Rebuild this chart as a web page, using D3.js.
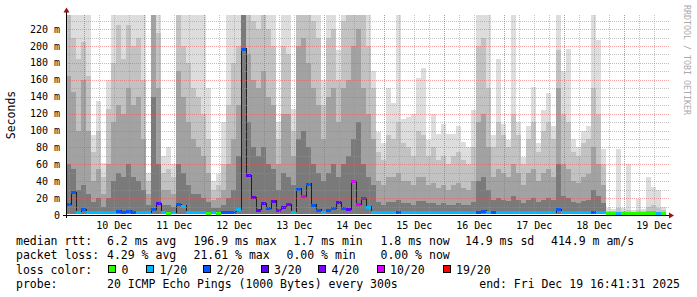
<!DOCTYPE html>
<html>
<head>
<meta charset="utf-8">
<script src="https://cdnjs.cloudflare.com/ajax/libs/d3/7.8.5/d3.min.js"></script>
<style>
body { margin: 0; background: #fff; }
svg { display: block; }
text { font-family: "DejaVu Sans Mono", monospace; }
</style>
</head>
<body>
<script>
// time range: 10 days ending at the probe's last run, one column every 2 hours
var endTime = new Date(Date.UTC(2025, 11, 19, 16, 41, 31));
var startTime = new Date(endTime.getTime() - 10 * 86400000);
var stepMs = 2 * 3600 * 1000;
var minPing = 1.7;

// smoke envelope per column (ms): outer (max ping) down to inner pings
var pingMax = [250,250,250,250,250,95,135,62,160,250, 250,250,250,250,250,250,50,250,250,70,
  80,60,250,250,250,250,250,250,150,40, 48,110,250,250,250,250,250,250,250,250,
  250,250,110,250,250,125,250,250,250,250, 250,160,250,250,195,250,250,250,250,250,
  250,170,98,85,150,133,250,114,116,120, 162,174,89,120,96,108,96,96,105,86,
  81,124,250,250,250,95,185,108,89,250, 110,69,105,151,85,124,144,105,250,170,
  196,90,80,100,105,250,207,78,8,7, 78,8,60,6,19,7,45,33,30,10];
var ping2 = [250,210,185,205,165,75,100,45,125,180, 225,185,225,200,210,160,40,250,215,50,
  55,45,250,200,180,150,140,120,90,30, 35,60,130,180,200,250,250,230,220,250,
  220,200,90,200,190,100,250,250,250,230, 210,130,210,220,160,230,250,250,250,240,
  200,150,75,65,95,90,110,85,80,70, 100,95,70,80,65,70,60,70,75,65,
  60,80,200,210,150,80,110,95,80,120, 95,60,90,110,75,100,110,90,195,120,
  110,75,70,85,90,150,120,60,5,5, 8,5,6,4,6,5,10,12,8,6];
var ping3 = [165,145,100,160,100,40,55,25,60,110, 130,120,150,130,140,90,25,250,150,30,
  30,25,170,140,110,90,80,70,50,18, 20,30,60,90,130,250,190,160,150,170,
  140,130,60,120,120,70,200,210,180,150, 130,90,140,150,110,150,160,200,220,150,
  120,90,40,35,45,45,50,40,40,35, 45,45,35,38,32,35,30,35,38,32,
  30,40,110,120,80,45,55,50,45,60, 50,35,50,55,40,50,55,45,150,60,
  55,40,38,45,48,80,60,35,3.5,3.5, 4,3.5,4,3,4,3.5,5,5,4,4];
var ping4 = [60,55,30,35,25,15,20,10,20,40, 50,45,60,45,40,30,12,140,60,12,
  12,10,60,50,35,25,25,20,15,8, 8,12,20,30,70,250,110,80,70,80,
  60,55,30,50,45,35,90,100,80,60, 50,40,50,60,45,60,70,90,110,60,
  45,35,15,12,15,15,18,14,14,12, 16,16,14,14,12,14,12,12,14,12,
  12,15,40,45,30,18,20,18,16,22, 18,14,18,20,15,18,20,18,60,22,
  20,15,14,16,18,30,22,14,2.5,2.5, 3,2.5,2.5,2.5,2.5,2.5,3,3,3,2.5];

// median rtt (ms) and lost pings out of 20 per column
var medianRtt = [13,27,4,7,4,3,3,3,3,4, 5,4,5,4,3,3,3,7,14,3,
  2,3,13,11,4,3,3,3,2,3, 2,3,4,4,7,197,47,21,6,14,
  8,17,6,10,13,4,31,22,37,12, 6,4,6,8,15,8,7,40,13,20,
  10,3,3,3,3,3,3,3,3,3, 3,3,3,3,3,3,3,3,3,3,
  3,3,4,5,3,3,3,3,3,3, 3,3,3,3,3,3,3,3,7,3,
  3,3,3,3,3,3,3,3,2,2, 2.5,2,2,2,2,2,2,2,2.5,2];
var lossCount = [2,2,1,2,1,1,1,1,1,1, 2,2,2,2,1,1,1,2,3,1,
  0,1,2,1,1,1,1,1,0,1, 0,2,2,2,1,2,3,3,3,3,
  2,3,4,3,4,1,2,10,2,2, 2,1,2,2,3,2,3,10,10,2,
  1,1,1,1,1,1,2,1,1,1, 1,1,1,1,1,1,1,1,1,1,
  1,1,2,2,1,2,1,1,1,1, 1,1,1,1,1,1,1,1,2,1,
  1,1,1,1,1,2,1,1,0,0, 1,0,0,0,0,0,0,0,1,0];

// loss color legend
var lossLabels = ["0", "1/20", "2/20", "3/20", "4/20", "10/20", "19/20"];
var lossLevels = [0, 1, 2, 3, 4, 10, 19];
var lossColors = ["#26ff00", "#00b8ff", "#0059ff", "#5e00ff", "#7e00ff", "#dd00ff", "#ff0000"];
var smokeColors = ["#dddddd", "#c2c2c2", "#a2a2a2", "#7a7a7a"];

var yTicks = [0, 20, 40, 60, 80, 100, 120, 140, 160, 180, 200, 220];

var legendRows = [
  [["median rtt:", 16], ["6.2 ms avg", 107], ["196.9 ms max", 193.5], ["1.7 ms min", 293.5], ["1.8 ms now", 380.5], ["14.9 ms sd", 465], ["414.9 m am/s", 551]],
  [["packet loss:", 16], ["4.29 % avg", 107], ["21.61 % max", 193.5], ["0.00 % min", 286.5], ["0.00 % now", 380.5]]
];
var probeText = "20 ICMP Echo Pings (1000 Bytes) every 300s";
var endText = "end: Fri Dec 19 16:41:31 2025";

var W = 697, H = 297;
var svg = d3.select("body").append("svg").attr("width", W).attr("height", H);

var x = d3.scaleUtc().domain([startTime, endTime]).range([66, 666]);
var y = d3.scaleLinear().domain([0, 236.7]).range([215, 15]);

var cols = pingMax.map(function(d, i) {
  var t0 = new Date(startTime.getTime() + i * stepMs);
  var t1 = new Date(t0.getTime() + stepMs);
  return { i: i, t0: t0, t1: t1, levels: [d, ping2[i], ping3[i], ping4[i]], median: medianRtt[i], loss: lossCount[i] };
});

svg.append("clipPath").attr("id", "plot")
  .append("rect").attr("x", 66).attr("y", 15).attr("width", 601).attr("height", 200);

var plot = svg.append("g").attr("clip-path", "url(#plot)").attr("shape-rendering", "crispEdges");

// smoke, outer layer first
smokeColors.forEach(function(c, k) {
  plot.append("g").selectAll("rect")
    .data(cols)
    .enter().append("rect")
    .attr("x", function(d) { return x(d.t0); })
    .attr("width", function(d) { return x(d.t1) - x(d.t0); })
    .attr("y", function(d) { return y(d.levels[k]); })
    .attr("height", function(d) { return Math.max(0, y(minPing) - y(d.levels[k])); })
    .attr("fill", c);
});

// grid on top of the smoke
var grid = svg.append("g").attr("shape-rendering", "crispEdges");
var minorV = d3.utcHour.every(6).range(startTime, endTime);
var majorV = d3.utcDay.range(startTime, endTime);
grid.selectAll(".vminor").data(minorV).enter().append("line")
  .attr("x1", function(d) { return Math.round(x(d)) + 0.5; })
  .attr("x2", function(d) { return Math.round(x(d)) + 0.5; })
  .attr("y1", 15).attr("y2", 215)
  .attr("stroke", "rgba(150,150,150,0.55)").attr("stroke-dasharray", "1,1");
grid.selectAll(".hminor").data(d3.range(10, 240, 10)).enter().append("line")
  .attr("x1", 66).attr("x2", 669)
  .attr("y1", function(d) { return Math.round(y(d)) + 0.5; })
  .attr("y2", function(d) { return Math.round(y(d)) + 0.5; })
  .attr("stroke", function(d) { return d % 20 ? "rgba(150,150,150,0.55)" : "rgba(235,80,80,0.5)"; })
  .attr("stroke-dasharray", "1,1");
grid.selectAll(".vmajor").data(majorV).enter().append("line")
  .attr("x1", function(d) { return Math.round(x(d)) + 0.5; })
  .attr("x2", function(d) { return Math.round(x(d)) + 0.5; })
  .attr("y1", 15).attr("y2", 215)
  .attr("stroke", "rgba(235,80,80,0.5)").attr("stroke-dasharray", "1,1");

// median: thin dark step line, then loss-coloured bands
var steps = [];
cols.forEach(function(d) { steps.push([d.t0, d.median]); });
steps.push([endTime, medianRtt[medianRtt.length - 1]]);
plot.append("path")
  .datum(steps)
  .attr("fill", "none")
  .attr("stroke", "#202020")
  .attr("stroke-width", 1)
  .attr("d", d3.line().curve(d3.curveStepAfter)
    .x(function(d) { return x(d[0]); })
    .y(function(d) { return y(d[1]); }));

function lossColor(n) {
  var k = 0;
  lossLevels.forEach(function(l, j) { if (n >= l) k = j; });
  return lossColors[k];
}

plot.append("g").selectAll("rect")
  .data(cols)
  .enter().append("rect")
  .attr("x", function(d) { return x(d.t0); })
  .attr("width", function(d) { return x(d.t1) - x(d.t0); })
  .attr("y", function(d) { return Math.round(y(d.median)) - 1.5; })
  .attr("height", 3)
  .attr("fill", function(d) { return lossColor(d.loss); });

// axes
var axes = svg.append("g").attr("shape-rendering", "crispEdges");
axes.append("line").attr("x1", 66.5).attr("x2", 66.5).attr("y1", 12).attr("y2", 218).attr("stroke", "#000");
axes.append("line").attr("x1", 63).attr("x2", 670).attr("y1", 215.5).attr("y2", 215.5).attr("stroke", "#000");
svg.append("path").attr("d", "M63.5,12.5L66.5,7.5L69.5,12.5Z").attr("fill", "#a01010");
svg.append("path").attr("d", "M669,212.5L674,215.5L669,218.5Z").attr("fill", "#a01010");

svg.append("g").selectAll("text")
  .data(yTicks)
  .enter().append("text")
  .attr("x", 60)
  .attr("y", function(d) { return y(d) + 3.5; })
  .attr("text-anchor", "end")
  .attr("font-size", "10px")
  .attr("fill", "#000")
  .text(function(d) { return d === 0 ? "0" : d + " m"; });

// day labels sit at noon of each day in range
var dayFmt = d3.utcFormat("%d %b");
var labelDays = d3.utcDay.range(d3.utcDay.floor(startTime), endTime)
  .filter(function(d) { return d.getTime() + 43200000 >= startTime.getTime() && d.getTime() + 43200000 <= endTime.getTime(); });
svg.append("g").selectAll("text")
  .data(labelDays)
  .enter().append("text")
  .attr("x", function(d) { return x(new Date(d.getTime() + 43200000)); })
  .attr("y", 228.5)
  .attr("text-anchor", "middle")
  .attr("font-size", "10px")
  .attr("fill", "#000")
  .text(function(d) { return dayFmt(d); });

svg.append("text")
  .attr("transform", "translate(15,115) rotate(-90)")
  .attr("text-anchor", "middle")
  .attr("font-size", "11.5px")
  .attr("fill", "#000")
  .text("Seconds");

svg.append("text")
  .attr("transform", "translate(684,5) rotate(90)")
  .attr("font-size", "8.3px")
  .attr("fill", "#aaaaaa")
  .text("RRDTOOL / TOBI OETIKER");

// legend
var legend = svg.append("g").attr("font-size", "11.5px").attr("fill", "#000");
legendRows.forEach(function(row, r) {
  row.forEach(function(p) {
    legend.append("text").attr("x", p[1]).attr("y", 245 + r * 14.3).text(p[0]);
  });
});
legend.append("text").attr("x", 16).attr("y", 273.5).text("loss color:");
var boxX = [108.5, 146.5, 203.5, 261, 318.5, 377, 443];
lossLabels.forEach(function(l, j) {
  legend.append("rect").attr("x", boxX[j]).attr("y", 265.5).attr("width", 7).attr("height", 7)
    .attr("fill", lossColors[j]).attr("stroke", "#000").attr("shape-rendering", "crispEdges");
  legend.append("text").attr("x", boxX[j] + 13).attr("y", 273.5).text(l);
});
legend.append("text").attr("x", 16).attr("y", 288).text("probe:");
legend.append("text").attr("x", 107).attr("y", 288).text(probeText);
legend.append("text").attr("x", 680).attr("y", 288).attr("text-anchor", "end").text(endText);
</script>
</body>
</html>
